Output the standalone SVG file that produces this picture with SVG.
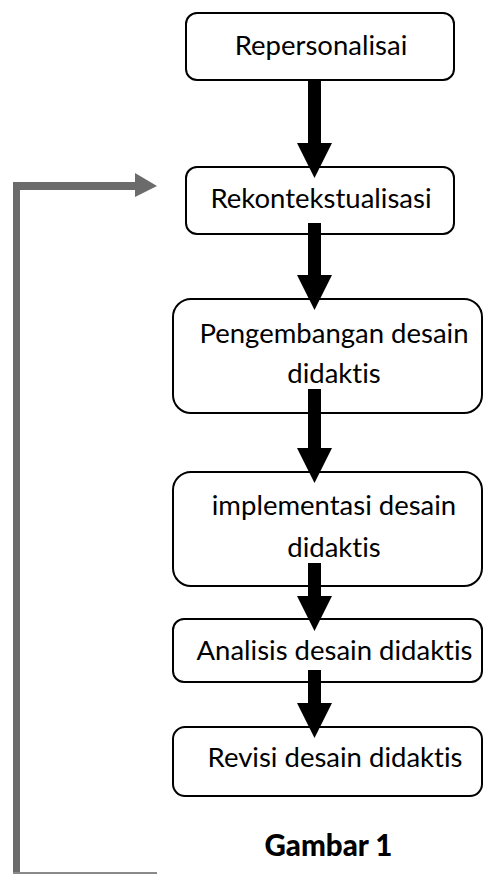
<svg xmlns="http://www.w3.org/2000/svg" width="484" height="874" viewBox="0 0 484 874">
<style>
.box{fill:#fff;stroke:#000;stroke-width:2}
.t{font-family:Lato,"Liberation Sans",sans-serif;font-size:27.5px;fill:#000;text-anchor:middle;font-variant-ligatures:none;font-feature-settings:"liga" 0}
.b{font-weight:900;font-size:29.5px}
.arr{fill:#000}
.fb{fill:#6b6b6b}
</style>
<rect width="484" height="874" fill="#fff"/>
<g id="n1"><rect class="box" x="186" y="13" width="268" height="67" rx="11"/><text class="t" x="321" y="55">Repersonalisai</text></g>
<g id="n2"><rect class="box" x="186" y="167" width="268" height="67" rx="11"/><text class="t" x="321" y="208">Rekontekstualisasi</text></g>
<g id="n3"><rect class="box" x="173" y="299" width="309" height="114" rx="18"/><text class="t" x="334" y="343">Pengembangan desain</text><text class="t" x="334" y="383">didaktis</text></g>
<g id="n4"><rect class="box" x="173" y="472" width="309" height="114" rx="18"/><text class="t" x="334" y="515">implementasi desain</text><text class="t" x="334" y="557">didaktis</text></g>
<g id="n5"><rect class="box" x="173" y="619" width="309" height="63" rx="11"/><text class="t" x="334.5" y="660">Analisis desain didaktis</text></g>
<g id="n6"><rect class="box" x="173" y="727" width="309" height="69" rx="12"/><text class="t" x="335" y="767">Revisi desain didaktis</text></g>
<g id="caption"><text class="t b" x="328.5" y="856">Gambar 1</text></g>
<g id="connectors">
  <path class="arr" d="M308,80 H321 V143 H332 L314.5,178 L297,143 H308 Z"/>
  <path class="arr" d="M308,223 H321 V275 H332 L314.5,310 L297,275 H308 Z"/>
  <path class="arr" d="M308,389 H321 V448 H332 L314.5,483 L297,448 H308 Z"/>
  <path class="arr" d="M308,563 H321 V596 H332 L314.5,631 L297,596 H308 Z"/>
  <path class="arr" d="M308,670 H321 V703 H332 L314.5,738 L297,703 H308 Z"/>
  <g id="feedback">
    <path class="fb" d="M13,874 V182 H135 V173 L157,186 L135,197 V190 H20 V874 Z"/>
    <rect x="13" y="872" width="144" height="2" fill="#8a8a8a"/>
  </g>
</g>
</svg>
